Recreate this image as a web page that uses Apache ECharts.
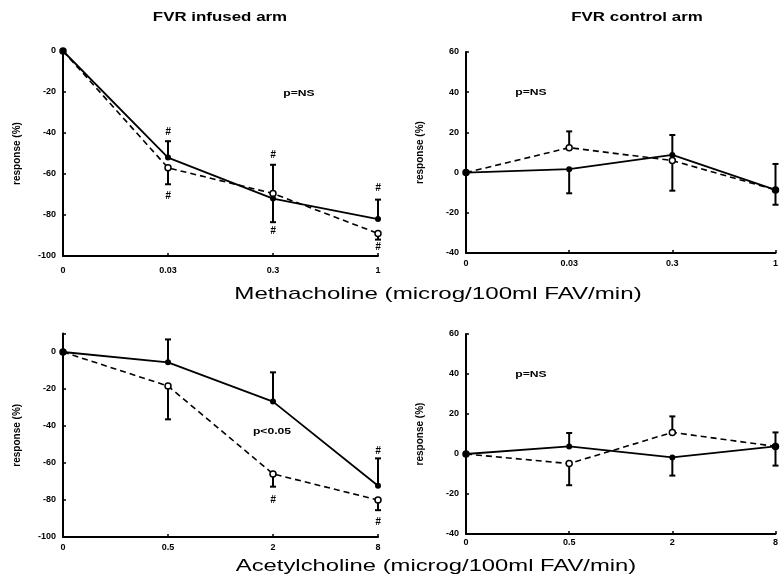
<!DOCTYPE html>
<html>
<head>
<meta charset="utf-8">
<script src="https://cdn.jsdelivr.net/npm/echarts@6/dist/echarts.min.js"></script>
<style>html,body{margin:0;padding:0;background:#fff;}#c{width:781px;height:577px;}</style>
</head>
<body>
<div id="c"></div>
<script>
// ---- data ----
const catsMeth = ['0', '0.03', '0.3', '1'];
const catsAch = ['0', '0.5', '2', '8'];

const methInfSolid = [0, -52, -72, -82];
const methInfDashed = [0, -57, -69.5, -89];
const methInfSolidErr = [null, -44, -83.5, -72.5];
const methInfDashedErr = [null, -65, -55.5, -92];
const methInfHash = [[1, -39.5], [1, -71], [2, -51], [2, -88], [3, -67], [3, -95.5]];

const methCtlSolid = [0, 1.7, 8.8, -8.6];
const methCtlDashed = [0, 12.4, 6, -8.6];
const methCtlSolidErr = [null, -10.3, 18.7, 4.3];
const methCtlDashedErr = [null, 20.5, -9, -16];

const achInfSolid = [0, -5.6, -26.8, -72.3];
const achInfDashed = [0, -18.4, -65.9, -80];
const achInfSolidErr = [null, 6.8, -11, -57.5];
const achInfDashedErr = [null, -36.4, -72.8, -85.5];
const achInfHash = [[2, -80], [3, -53.5], [3, -92]];

const achCtlSolid = [0, 3.8, -1.7, 3.8];
const achCtlDashed = [0, -4.8, 10.8, 3.8];
const achCtlSolidErr = [null, 10.5, -10.8, 10.8];
const achCtlDashedErr = [null, -15.6, 18.8, -5.8];

const yTicksInf = [-100, -80, -60, -40, -20, 0];
const yTicksCtl = [-40, -20, 0, 20, 40, 60];

// ---- helpers ----
const FONT = '"Liberation Sans", Arial, sans-serif';
function errData(vals, tips) {
  const out = [];
  vals.forEach((v, i) => { if (tips[i] !== null) out.push([i, v, tips[i]]); });
  return out;
}
function xAxis(idx, cats, margin) {
  return {
    type: 'category', gridIndex: idx, data: cats, boundaryGap: false,
    axisLine: { onZero: false, lineStyle: { color: '#000', width: 2 } },
    axisTick: { show: true, inside: true, length: 3, lineStyle: { color: '#000', width: 1.5 } },
    axisLabel: { color: '#000', fontSize: 9, fontWeight: 'bold', fontFamily: FONT, margin: margin, showMaxLabel: true },
    splitLine: { show: false }
  };
}
function yAxis(idx, min, max, ticks) {
  return {
    type: 'value', gridIndex: idx, min: min, max: max, interval: 20,
    name: 'response (%)', nameLocation: 'middle', nameGap: 41,
    nameTextStyle: { color: '#000', fontSize: 10, fontWeight: 'bold', fontFamily: FONT },
    axisLine: { show: true, onZero: false, lineStyle: { color: '#000', width: 2 } },
    axisTick: { show: true, inside: true, length: 3, lineStyle: { color: '#000', width: 1.5 } },
    axisLabel: {
      color: '#000', fontSize: 9, fontWeight: 'bold', fontFamily: FONT, margin: 7,
      formatter: v => (ticks.indexOf(v) >= 0 ? String(v) : '')
    },
    splitLine: { show: false }
  };
}
function solidSeries(idx, data) {
  return {
    type: 'line', xAxisIndex: idx, yAxisIndex: idx, data: data, z: 4,
    symbol: 'circle', symbolSize: 6, showAllSymbol: true,
    lineStyle: { color: '#000', width: 1.8 }, itemStyle: { color: '#000' },
    animation: false
  };
}
function dashedSeries(idx, data) {
  return {
    type: 'line', xAxisIndex: idx, yAxisIndex: idx, data: data, z: 4,
    symbol: 'circle', symbolSize: 6, showAllSymbol: true,
    lineStyle: { color: '#000', width: 1.6, type: [6, 4] },
    itemStyle: { color: '#fff', borderColor: '#000', borderWidth: 1.5 },
    animation: false
  };
}
function errSeries(idx, data) {
  return {
    type: 'custom', xAxisIndex: idx, yAxisIndex: idx, data: data, z: 3,
    animation: false, silent: true,
    renderItem: function (params, api) {
      const a = api.coord([api.value(0), api.value(1)]);
      const b = api.coord([api.value(0), api.value(2)]);
      return {
        type: 'group', children: [
          { type: 'line', shape: { x1: a[0], y1: a[1], x2: b[0], y2: b[1] }, style: { stroke: '#000', lineWidth: 2 } },
          { type: 'line', shape: { x1: b[0] - 3, y1: b[1], x2: b[0] + 3, y2: b[1] }, style: { stroke: '#000', lineWidth: 2 } }
        ]
      };
    }
  };
}
function hashSeries(idx, data) {
  return {
    type: 'custom', xAxisIndex: idx, yAxisIndex: idx, data: data, z: 5,
    animation: false, silent: true,
    renderItem: function (params, api) {
      const p = api.coord([api.value(0), api.value(1)]);
      return {
        type: 'text', x: p[0], y: p[1],
        style: { text: '#', font: 'italic bold 10px ' + FONT, fill: '#000', align: 'center', verticalAlign: 'middle' }
      };
    }
  };
}
function txt(text, x, y, size, weight, sx) {
  return {
    type: 'text', x: x, y: y, scaleX: sx, silent: true,
    style: { text: text, font: weight + ' ' + size + 'px ' + FONT, fill: '#000', align: 'center', verticalAlign: 'middle' }
  };
}

const chart = echarts.init(document.getElementById('c'), null, { renderer: 'canvas' });
chart.setOption({
  backgroundColor: '#fff',
  animation: false,
  grid: [
    { left: 63, top: 51, width: 315, height: 205 },
    { left: 466, top: 52, width: 315, height: 201 },
    { left: 63, top: 333.5, width: 315, height: 203.5 },
    { left: 466, top: 334, width: 315, height: 200 }
  ],
  xAxis: [xAxis(0, catsMeth, 10), xAxis(1, catsMeth, 6), xAxis(2, catsAch, 6), xAxis(3, catsAch, 4)],
  yAxis: [yAxis(0, -100, 0, yTicksInf), yAxis(1, -40, 60, yTicksCtl), yAxis(2, -100, 10, yTicksInf), yAxis(3, -40, 60, yTicksCtl)],
  series: [
    errSeries(0, errData(methInfSolid, methInfSolidErr)),
    errSeries(0, errData(methInfDashed, methInfDashedErr)),
    dashedSeries(0, methInfDashed), solidSeries(0, methInfSolid),
    hashSeries(0, methInfHash),

    errSeries(1, errData(methCtlSolid, methCtlSolidErr)),
    errSeries(1, errData(methCtlDashed, methCtlDashedErr)),
    dashedSeries(1, methCtlDashed), solidSeries(1, methCtlSolid),

    errSeries(2, errData(achInfSolid, achInfSolidErr)),
    errSeries(2, errData(achInfDashed, achInfDashedErr)),
    dashedSeries(2, achInfDashed), solidSeries(2, achInfSolid),
    hashSeries(2, achInfHash),

    errSeries(3, errData(achCtlSolid, achCtlSolidErr)),
    errSeries(3, errData(achCtlDashed, achCtlDashedErr)),
    dashedSeries(3, achCtlDashed), solidSeries(3, achCtlSolid)
  ],
  graphic: [
    txt('FVR infused arm', 220, 17, 13, 'bold', 1.3),
    txt('FVR control arm', 637, 17, 13, 'bold', 1.3),
    txt('Methacholine (microg/100ml FAV/min)', 438, 294, 17, 'normal', 1.42),
    txt('Acetylcholine (microg/100ml FAV/min)', 436, 566, 17, 'normal', 1.4),
    txt('p=NS', 299, 94, 9, 'bold', 1.35),
    txt('p=NS', 531, 93, 9, 'bold', 1.35),
    txt('p=NS', 531, 375, 9, 'bold', 1.35),
    txt('p<0.05', 272, 432, 9, 'bold', 1.35)
  ]
});
</script>
</body>
</html>
